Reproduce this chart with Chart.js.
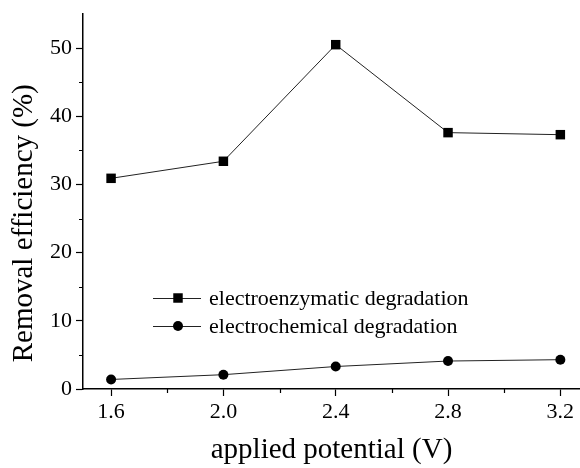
<!DOCTYPE html>
<html>
<head>
<meta charset="utf-8">
<script src="https://cdn.jsdelivr.net/npm/chart.js@4/dist/chart.umd.min.js"></script>
<style>
  html, body { margin: 0; padding: 0; background: #fff; overflow: hidden; }
  #wrap { width: 580px; height: 468px; position: relative; }
  #wrap canvas { display: block; }
</style>
</head>
<body>
<div id="wrap"><canvas id="potentialChart"></canvas></div>
<script>
// applied potential (V)
const potentials = [1.6, 2.0, 2.4, 2.8, 3.2];
// removal efficiency (%)
const enzymaticValues = [30.9, 33.4, 50.5, 37.6, 37.3];
const chemicalValues = [1.4, 2.1, 3.3, 4.1, 4.3];
const seriesNames = ['electroenzymatic degradation', 'electrochemical degradation'];
const xMajorTicks = [1.6, 2.0, 2.4, 2.8, 3.2];
const xMinorTicks = [1.8, 2.2, 2.6, 3.0];
const yMajorTicks = [0, 10, 20, 30, 40, 50];
const yMinorTicks = [5, 15, 25, 35, 45];

const SERIF = '"Liberation Serif", "Times New Roman", serif';

/**
 * Minor ticks + legend drawn with line-and-marker samples
 */
const extrasPlugin = {
  id: 'extras',
  afterDraw(chart) {
    const { ctx, scales: { x, y } } = chart;
    ctx.save();
    ctx.strokeStyle = '#000';
    ctx.lineWidth = 1.2;
    ctx.beginPath();
    xMinorTicks.forEach(v => {
      const px = Math.round(x.getPixelForValue(v)) + 0.5;
      ctx.moveTo(px, y.bottom);
      ctx.lineTo(px, y.bottom + 4);
    });
    yMinorTicks.forEach(v => {
      const py = Math.round(y.getPixelForValue(v)) + 0.5;
      ctx.moveTo(x.left, py);
      ctx.lineTo(x.left - 4, py);
    });
    ctx.stroke();

    // legend
    const rows = [298, 326];
    chart.data.datasets.forEach((ds, i) => {
      const ly = rows[i];
      ctx.strokeStyle = '#222';
      ctx.lineWidth = 1;
      ctx.beginPath();
      ctx.moveTo(153, ly + 0.5);
      ctx.lineTo(201, ly + 0.5);
      ctx.stroke();
      Chart.helpers.drawPoint(ctx, {
        pointStyle: ds.pointStyle,
        radius: ds.pointRadius,
        borderWidth: 0
      }, 178, ly);
      ctx.fillStyle = '#000';
      ctx.font = '22px ' + SERIF;
      ctx.textBaseline = 'middle';
      ctx.textAlign = 'left';
      ctx.fillText(ds.label, 209, ly + 1);
    });
    ctx.restore();
  }
};

function pointSet(xs, ys) {
  return xs.map((v, i) => ({ x: v, y: ys[i] }));
}

document.addEventListener('DOMContentLoaded', () => {
  const ctx = document.getElementById('potentialChart');

  new Chart(ctx, {
    type: 'line',
    data: {
      datasets: [
        {
          label: seriesNames[0],
          data: pointSet(potentials, enzymaticValues),
          borderColor: '#222',
          backgroundColor: '#000',
          borderWidth: 1,
          pointStyle: 'rect',
          pointRadius: 6.7,
          pointBorderWidth: 0,
          fill: false,
          tension: 0
        },
        {
          label: seriesNames[1],
          data: pointSet(potentials, chemicalValues),
          borderColor: '#222',
          backgroundColor: '#000',
          borderWidth: 1,
          pointStyle: 'circle',
          pointRadius: 5,
          pointBorderWidth: 0,
          fill: false,
          tension: 0
        }
      ]
    },
    options: {
      responsive: true,
      maintainAspectRatio: false,
      animation: false,
      layout: {
        autoPadding: false,
        padding: { top: 14, left: 0, right: 0, bottom: 0 }
      },
      plugins: {
        legend: { display: false },
        tooltip: { enabled: false }
      },
      scales: {
        x: {
          type: 'linear',
          min: 1.5,
          max: 3.27,
          afterFit(scale) {
            scale.height = 79;
            scale.paddingLeft = 0;
            scale.paddingRight = 0;
          },
          afterBuildTicks(scale) {
            scale.ticks = xMajorTicks.map(v => ({ value: v }));
          },
          border: { display: true, color: '#000', width: 1.5 },
          grid: {
            drawOnChartArea: false,
            drawTicks: true,
            tickLength: 7,
            tickColor: '#000',
            tickWidth: 1.2
          },
          ticks: {
            color: '#000',
            padding: 3,
            maxRotation: 0,
            autoSkip: false,
            font: { family: SERIF, size: 22 },
            callback: value => value.toFixed(1)
          },
          title: {
            display: true,
            text: 'applied potential (V)',
            color: '#000',
            padding: { top: 0, bottom: 0 },
            font: { family: SERIF, size: 29 }
          }
        },
        y: {
          min: 0,
          max: 55,
          afterFit(scale) {
            scale.width = 83;
            scale.paddingTop = 0;
            scale.paddingBottom = 0;
          },
          afterBuildTicks(scale) {
            scale.ticks = yMajorTicks.map(v => ({ value: v }));
          },
          border: { display: true, color: '#000', width: 1.5 },
          grid: {
            drawOnChartArea: false,
            drawTicks: true,
            tickLength: 7,
            tickColor: '#000',
            tickWidth: 1.2
          },
          ticks: {
            color: '#000',
            padding: 4,
            font: { family: SERIF, size: 22 }
          },
          title: {
            display: true,
            text: 'Removal efficiency (%)\u2003\u2002',
            color: '#000',
            padding: { top: 7, bottom: 0 },
            font: { family: SERIF, size: 29 }
          }
        }
      }
    },
    plugins: [extrasPlugin]
  });
});
</script>
</body>
</html>
